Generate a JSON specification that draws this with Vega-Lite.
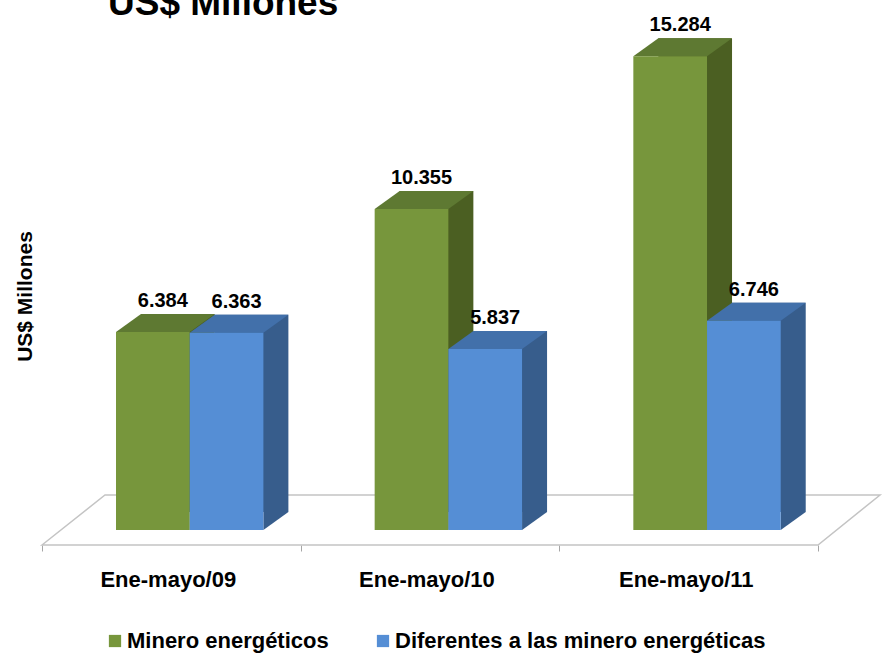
{
  "$schema": "https://vega.github.io/schema/vega-lite/v6.json",
  "width": 776,
  "height": 496,
  "autosize": {"type": "none"},
  "padding": {"left": 42, "top": 34, "right": 65, "bottom": 127},
  "background": "white",
  "config": {
    "font": "Liberation Sans",
    "view": {"stroke": null},
    "locale": {"number": {"decimal": ",", "thousands": ".", "grouping": [3], "currency": ["$", ""]}}
  },
  "title": {
    "text": "US$ Millones",
    "anchor": "start",
    "frame": "group",
    "dx": 66,
    "fontSize": 37,
    "fontWeight": "bold",
    "color": "black",
    "baseline": "alphabetic",
    "offset": -37
  },
  "data": {
    "values": [
      {"periodo": "Ene-mayo/09", "serie": "Minero energéticos", "valor": 6384},
      {"periodo": "Ene-mayo/09", "serie": "Diferentes  a las minero energéticas", "valor": 6363},
      {"periodo": "Ene-mayo/10", "serie": "Minero energéticos", "valor": 10355},
      {"periodo": "Ene-mayo/10", "serie": "Diferentes  a las minero energéticas", "valor": 5837},
      {"periodo": "Ene-mayo/11", "serie": "Minero energéticos", "valor": 15284},
      {"periodo": "Ene-mayo/11", "serie": "Diferentes  a las minero energéticas", "valor": 6746}
    ]
  },
  "resolve": {"scale": {"color": "independent", "xOffset": "independent"}},
  "layer": [
    {
      "data": {"values": [{"periodo": "Ene-mayo/10"}]},
      "mark": {"type": "point", "shape": "M-388,15L-325,-35L450,-35L388,15Z", "size": 4, "filled": true, "fill": "white", "stroke": "#c4c4c4", "strokeWidth": 1.5, "opacity": 1},
      "encoding": {
        "x": {"field": "periodo", "type": "nominal", "scale": {"type": "band", "domain": ["Ene-mayo/09", "Ene-mayo/10", "Ene-mayo/11"], "paddingInner": 0, "paddingOuter": 0}},
        "y": {"datum": 0, "type": "quantitative", "scale": {"domain": [0, 16000]}}
      }
    },
    {
      "mark": {"type": "bar", "yOffset": -18, "y2Offset": -18},
      "encoding": {
        "x": {"field": "periodo", "type": "nominal", "scale": {"type": "band"}},
        "xOffset": {"field": "serie", "type": "nominal", "sort": ["Minero energéticos", "Diferentes  a las minero energéticas"], "scale": {"type": "band", "paddingInner": 0, "paddingOuter": 0.755, "align": 0.8897}},
        "y": {"field": "valor", "type": "quantitative"},
        "color": {"field": "serie", "type": "nominal", "scale": {"domain": ["Minero energéticos", "Diferentes  a las minero energéticas"], "range": ["#4b5f22", "#375d8c"]}, "legend": null}
      }
    },
    {
      "mark": {"type": "point", "shape": "M36.85,0L36.85,-18L61.85,-18Z", "size": 4, "filled": true, "opacity": 1, "strokeWidth": 0},
      "encoding": {
        "x": {"field": "periodo", "type": "nominal", "scale": {"type": "band"}},
        "xOffset": {"field": "serie", "type": "nominal", "sort": ["Minero energéticos", "Diferentes  a las minero energéticas"], "scale": {"type": "band", "paddingInner": 0, "paddingOuter": 0.755, "align": 0.665}},
        "y": {"datum": 0, "type": "quantitative"},
        "color": {"field": "serie", "type": "nominal", "scale": {"domain": ["Minero energéticos", "Diferentes  a las minero energéticas"], "range": ["#4b5f22", "#375d8c"]}, "legend": null}
      }
    },
    {
      "mark": {"type": "point", "shape": "M-36.85,0L36.85,0L61.85,-18L-11.85,-18Z", "size": 4, "filled": true, "opacity": 1, "strokeWidth": 0},
      "encoding": {
        "x": {"field": "periodo", "type": "nominal", "scale": {"type": "band"}},
        "xOffset": {"field": "serie", "type": "nominal", "sort": ["Minero energéticos", "Diferentes  a las minero energéticas"], "scale": {"type": "band", "paddingInner": 0, "paddingOuter": 0.755, "align": 0.665}},
        "y": {"field": "valor", "type": "quantitative"},
        "color": {"field": "serie", "type": "nominal", "scale": {"domain": ["Minero energéticos", "Diferentes  a las minero energéticas"], "range": ["#5e7932", "#4270aa"]}, "legend": null}
      }
    },
    {
      "mark": {"type": "bar"},
      "encoding": {
        "x": {
          "field": "periodo", "type": "nominal", "scale": {"type": "band"},
          "axis": {"title": null, "labelAngle": 0, "labelFontSize": 22, "labelFontWeight": "bold", "labelColor": "black", "domain": false, "tickColor": "#a6a6a6", "tickSize": 6, "tickBand": "extent", "labelOffset": 64.33, "offset": 15, "labelPadding": 28}
        },
        "xOffset": {"field": "serie", "type": "nominal", "sort": ["Minero energéticos", "Diferentes  a las minero energéticas"], "scale": {"type": "band", "paddingInner": 0, "paddingOuter": 0.755, "align": 0.665}},
        "y": {
          "field": "valor", "type": "quantitative",
          "axis": {"title": "US$ Millones", "labels": false, "ticks": false, "domain": false, "grid": false, "titleFontSize": 21, "titleFontWeight": "bold", "titleColor": "black", "titleX": -7, "titleY": 262, "titleBaseline": "bottom", "titleAngle": 270}
        },
        "color": {
          "field": "serie", "type": "nominal",
          "scale": {"domain": ["Minero energéticos", "Diferentes  a las minero energéticas"], "range": ["#77963c", "#558ed5"]},
          "legend": {"title": null, "orient": "none", "legendX": 62, "legendY": 596, "direction": "horizontal", "symbolType": "square", "symbolSize": 150, "symbolStrokeWidth": 0, "labelFontSize": 22, "labelFontWeight": "bold", "labelColor": "black", "labelOffset": 1, "columnPadding": 43, "labelLimit": 500}
        }
      }
    },
    {
      "mark": {"type": "text", "dx": 10, "dy": -25, "baseline": "alphabetic", "align": "center", "fontSize": 20, "fontWeight": "bold", "color": "black"},
      "encoding": {
        "x": {"field": "periodo", "type": "nominal", "scale": {"type": "band"}},
        "xOffset": {"field": "serie", "type": "nominal", "sort": ["Minero energéticos", "Diferentes  a las minero energéticas"], "scale": {"type": "band", "paddingInner": 0, "paddingOuter": 0.755, "align": 0.665}},
        "y": {"field": "valor", "type": "quantitative"},
        "text": {"field": "valor", "type": "quantitative", "format": ",d"}
      }
    }
  ]
}
